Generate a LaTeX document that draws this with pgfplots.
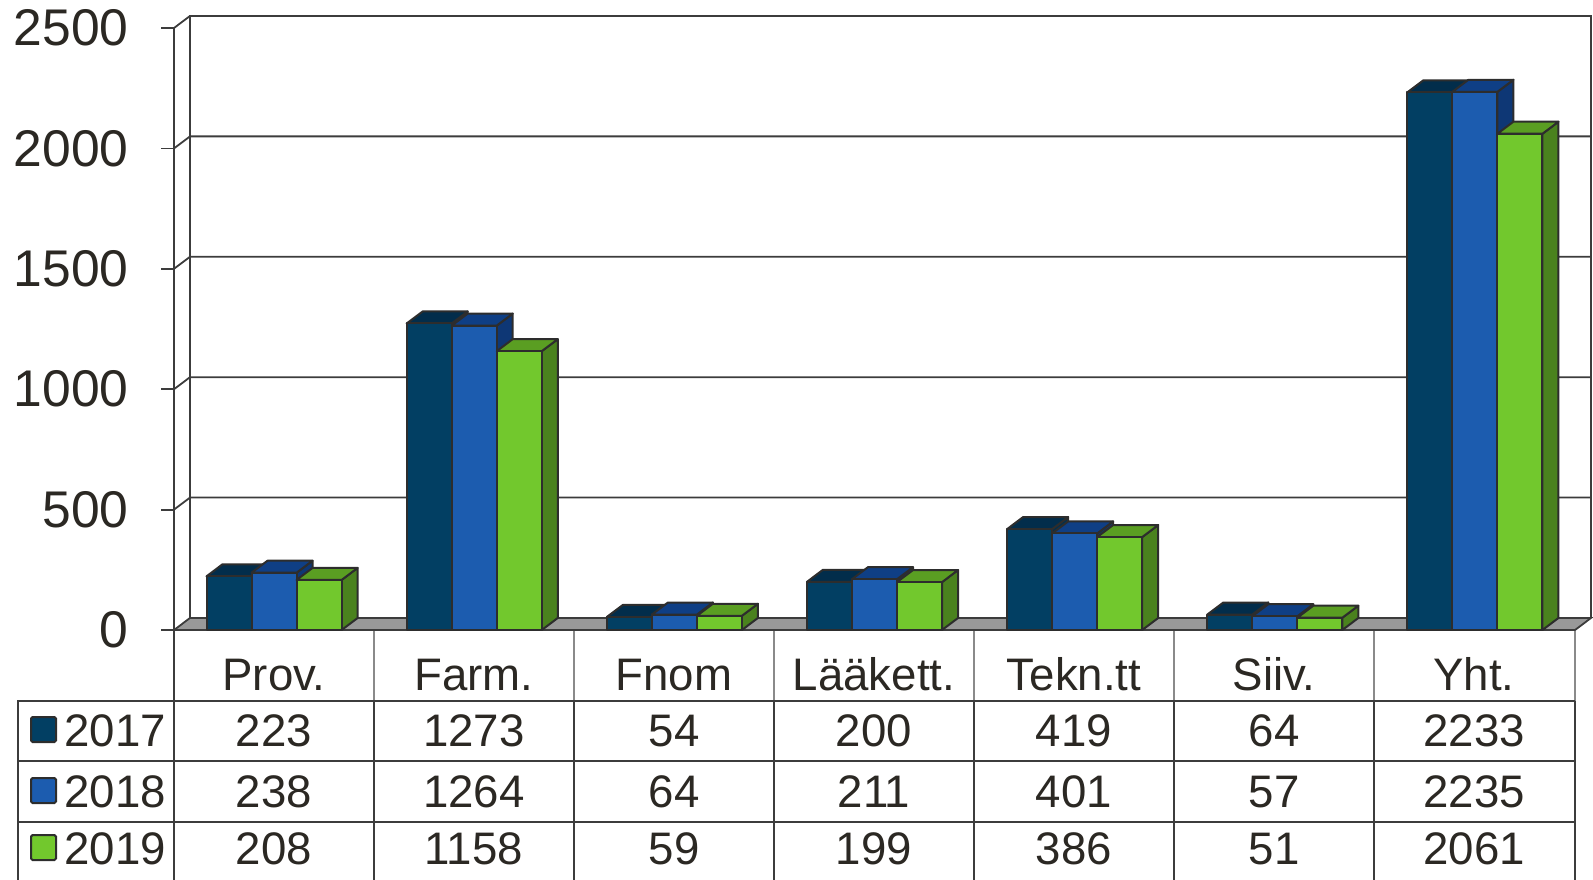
\documentclass[border=0pt]{standalone}
\usepackage{pgfplots}
\usepackage{pgfplotstable}
\pgfplotsset{compat=1.18}
\usepackage{fontspec}
\setmainfont{Liberation Sans}

\definecolor{c17}{HTML}{023F63}
\definecolor{t17}{HTML}{022D4B}
\definecolor{s17}{HTML}{01304F}
\definecolor{c18}{HTML}{1C5CAF}
\definecolor{t18}{HTML}{0F3F85}
\definecolor{s18}{HTML}{0E3775}
\definecolor{c19}{HTML}{72C82D}
\definecolor{t19}{HTML}{5A9E22}
\definecolor{s19}{HTML}{4A821E}
\definecolor{edge}{HTML}{2D2D2D}
\definecolor{wall}{HTML}{3C3C3C}
\definecolor{floorc}{HTML}{999999}
\definecolor{txt}{HTML}{2B2823}
\definecolor{hline}{HTML}{8A8A8A}

\pgfplotstableread{
x v17 v18 v19
0 223 238 208
1 1273 1264 1158
2 54 64 59
3 200 211 199
4 419 401 386
5 64 57 51
6 2233 2235 2061
}\datatable

\newcommand\barfaces[5]{%
  \pgfmathsetmacro\xa{#1}%
  \pgfmathsetmacro\xb{#1+0.225}%
  \pgfmathsetmacro\xc{#1+0.08}%
  \pgfmathsetmacro\xd{#1+0.305}%
  \pgfmathsetmacro\yt{#2+50}%
  \edef\temp{%
    \noexpand\addplot[forget plot, fill=#4, draw=edge, line width=1pt, line join=round] coordinates {(\xb,0) (\xd,50) (\xd,\yt) (\xb,#2)} --cycle;
    \noexpand\addplot[forget plot, fill=#3, draw=edge, line width=1pt, line join=round] coordinates {(\xa,#2) (\xc,\yt) (\xd,\yt) (\xb,#2)} --cycle;
    \noexpand\addplot[forget plot, fill=#5, draw=edge, line width=1pt, line join=round] coordinates {(\xa,0) (\xa,#2) (\xb,#2) (\xb,0)} --cycle;
  }\temp
}

\begin{document}
\begin{tikzpicture}
\useasboundingbox (0,0) rectangle (796.5pt,-439.5pt);
\begin{axis}[
  at={(87pt,-315pt)}, anchor=south west,
  scale only axis, width=700.5pt, height=301pt,
  xmin=-0.5, xmax=6.5, ymin=0, ymax=2500,
  clip=false,
  axis x line=none, axis y line*=left,
  y axis line style={draw=none},
  ytick={0,500,1000,1500,2000,2500},
  yticklabels={0,500,1000,1500,2000,2500},
  ytick style={draw=none}, major tick length=0pt,
  yticklabel style={anchor=east, inner sep=0pt, xshift=-22.5pt, text=txt,
    font=\fontsize{25.8pt}{30pt}\selectfont},
]
% walls and grid
\draw[wall, line width=0.9pt] (axis cs:-0.5,0) -- (axis cs:-0.5,2500);
\draw[wall, line width=0.9pt] (axis cs:-0.42,50) -- (axis cs:-0.42,2550) -- (axis cs:6.58,2550) -- (axis cs:6.58,50);
\draw[wall, line width=0.9pt] (axis cs:-0.5,500) -- (axis cs:-0.42,550) -- (axis cs:6.58,550);
\draw[wall, line width=0.9pt] (axis cs:-0.5,1000) -- (axis cs:-0.42,1050) -- (axis cs:6.58,1050);
\draw[wall, line width=0.9pt] (axis cs:-0.5,1500) -- (axis cs:-0.42,1550) -- (axis cs:6.58,1550);
\draw[wall, line width=0.9pt] (axis cs:-0.5,2000) -- (axis cs:-0.42,2050) -- (axis cs:6.58,2050);
\draw[wall, line width=0.9pt] (axis cs:-0.5,2500) -- (axis cs:-0.42,2550);
\pgfplotsinvokeforeach{0,500,1000,1500,2000,2500}{
  \draw[wall, line width=0.9pt] (axis cs:-0.5,#1) -- ([xshift=-6.5pt]axis cs:-0.5,#1);
}
% floor
\addplot[forget plot, fill=floorc, draw=wall, line width=0.9pt] coordinates {(-0.5,0) (6.5,0) (6.58,50) (-0.42,50)} --cycle;
% bars
\pgfplotsforeachungrouped \i in {0,...,6}{%
  \pgfplotstablegetelem{\i}{v17}\of\datatable \let\va\pgfplotsretval
  \pgfplotstablegetelem{\i}{v18}\of\datatable \let\vb\pgfplotsretval
  \pgfplotstablegetelem{\i}{v19}\of\datatable \let\vc\pgfplotsretval
  \pgfmathsetmacro\xlA{\i-0.3375}%
  \pgfmathsetmacro\xlB{\i-0.1125}%
  \pgfmathsetmacro\xlC{\i+0.1125}%
  \barfaces{\xlA}{\va}{t17}{s17}{c17}%
  \barfaces{\xlB}{\vb}{t18}{s18}{c18}%
  \barfaces{\xlC}{\vc}{t19}{s19}{c19}%
}
\end{axis}

% data table
\begin{scope}[x=0.5pt, y=-0.5pt]
  \foreach \xx in {374,574,774,974,1174,1374,1575}{
    \draw[hline, line width=0.8pt] (\xx,631) -- (\xx,701);
    \draw[wall, line width=0.8pt] (\xx,701) -- (\xx,890);
  }
  \draw[wall, line width=0.8pt] (174,630) -- (174,890);
  \draw[wall, line width=0.8pt] (18,890) -- (18,701) -- (1575,701);
  \draw[wall, line width=0.8pt] (18,761) -- (1575,761);
  \draw[wall, line width=0.8pt] (18,822) -- (1575,822);
  \foreach \nm [count=\k from 0] in {Prov.,Farm.,Fnom,Lääkett.,Tekn.tt,Siiv.,Yht.}{
    \node[anchor=base, inner sep=0pt, text=txt, font=\fontsize{22.8pt}{27pt}\selectfont] at (274+200*\k,690) {\nm};
  }
  \foreach \col/\yb/\cc in {v17/746/c17, v18/807/c18, v19/864/c19}{
    \foreach \k in {0,...,6}{
      \pgfplotstablegetelem{\k}{\col}\of\datatable
      \node[anchor=base, inner sep=0pt, text=txt, font=\fontsize{22.8pt}{27pt}\selectfont] at (274+200*\k,\yb) {\pgfplotsretval};
    }
    \draw[edge, fill=\cc, line width=1pt, rounded corners=0.8pt] (31,\yb-29) rectangle (56,\yb-4);
  }
  \node[anchor=base west, inner sep=0pt, text=txt, font=\fontsize{22.8pt}{27pt}\selectfont] at (64,746) {2017};
  \node[anchor=base west, inner sep=0pt, text=txt, font=\fontsize{22.8pt}{27pt}\selectfont] at (64,807) {2018};
  \node[anchor=base west, inner sep=0pt, text=txt, font=\fontsize{22.8pt}{27pt}\selectfont] at (64,864) {2019};
\end{scope}
\end{tikzpicture}
\end{document}
